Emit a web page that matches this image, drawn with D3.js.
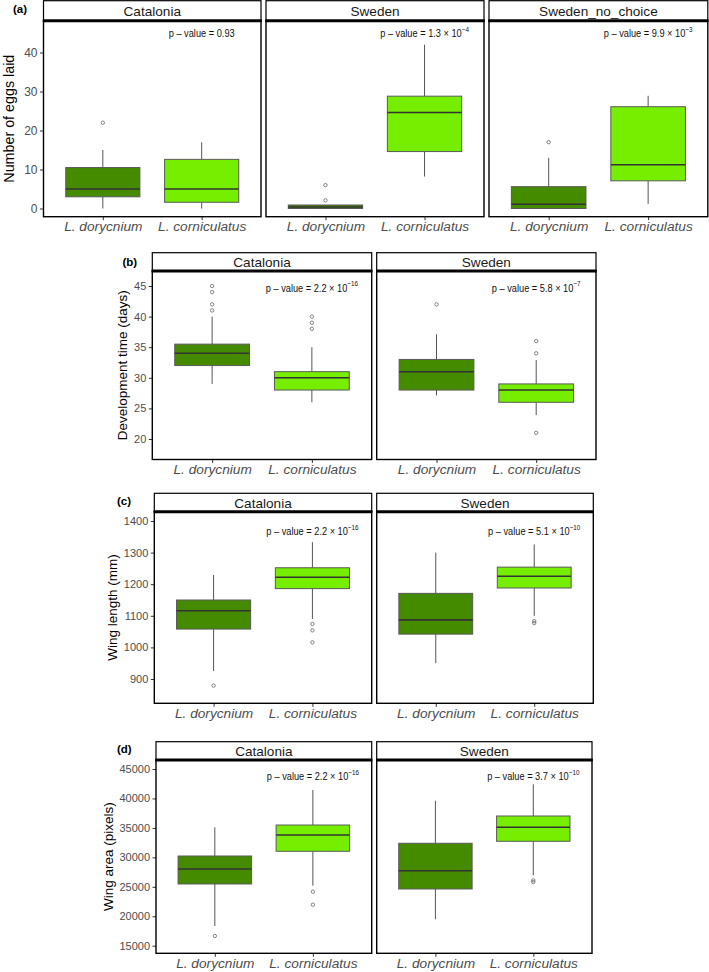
<!DOCTYPE html>
<html><head><meta charset="utf-8">
<script src="https://cdn.jsdelivr.net/npm/d3@7"></script>
<style>
body{margin:0;background:#fff}
svg{display:block}
text{font-family:"Liberation Sans",Arial,Helvetica,sans-serif}
</style>
</head><body>
<svg id="chart" width="709" height="972"></svg>
<script>
// ---------- DATA ----------
const species = ["L. dorycnium", "L. corniculatus"];
const speciesColors = ["#458B00", "#76EE00"];

// (a) Number of eggs laid  — box stats: [whiskerLow, Q1, median, Q3, whiskerHigh]
const eggsSites = ["Catalonia", "Sweden", "Sweden_no_choice"];
const eggsBoxes = [
  [[0, 3, 5, 10.5, 15], [0, 1.6, 5, 12.6, 17]],
  [[0, 0, 0.4, 0.9, 0.9], [8.2, 14.6, 24.6, 28.8, 42]],
  [[0, 0, 1.1, 5.6, 13], [1.2, 7.1, 11.2, 26.1, 28.9]]
];
const eggsOutliers = [[[22], []], [[2.1, 6], []], [[17], []]];
const eggsPValues = [["0.93", ""], ["1.3", "−4"], ["9.9", "−3"]];
const eggsTicks = [0, 10, 20, 30, 40];

// (b) Development time (days)
const devSites = ["Catalonia", "Sweden"];
const devBoxes = [
  [[29, 32, 34, 35.5, 40], [26, 28, 30, 31, 35]],
  [[27.1, 28, 31, 33, 37.1], [23.9, 26, 28, 29, 32.9]]
];
const devOutliers = [[[41, 42, 44, 45], [38, 39, 40]], [[42], [21, 34, 36]]];
const devPValues = [["2.2", "−16"], ["5.8", "−7"]];
const devTicks = [20, 25, 30, 35, 40, 45];

// (c) Wing length (mm)
const wingLenSites = ["Catalonia", "Sweden"];
const wingLenBoxes = [
  [[925, 1058, 1116, 1150, 1229], [1090, 1186, 1222, 1252, 1333]],
  [[950, 1042, 1087, 1171, 1300], [1100, 1188, 1225, 1254, 1326]]
];
const wingLenOutliers = [[[879], [1016, 1054, 1074]], [[], [1077, 1083]]];
const wingLenPValues = [["2.2", "−16"], ["5.1", "−10"]];
const wingLenTicks = [900, 1000, 1100, 1200, 1300, 1400];

// (d) Wing area (pixels)
const wingAreaSites = ["Catalonia", "Sweden"];
const wingAreaBoxes = [
  [[18350, 25480, 28020, 30230, 35100], [25190, 31030, 33800, 35490, 41430]],
  [[19480, 24630, 27730, 32390, 39620], [26950, 32730, 35100, 37020, 42400]]
];
const wingAreaOutliers = [[[16650], [21960, 24170]], [[], [25800, 26100]]];
const wingAreaPValues = [["2.2", "−16"], ["3.7", "−10"]];
const wingAreaTicks = [15000, 20000, 25000, 30000, 35000, 40000, 45000];

// ---------- LAYOUT (positions / styles) ----------
const rows = [
  { tag: "(a)", tagX: 13, tagY: 12.5, title: "Number of eggs laid", titleX: 9, titleSize: 14.3, tickSize: 12,
    sites: eggsSites, boxes: eggsBoxes, outliers: eggsOutliers, pvals: eggsPValues, ticks: eggsTicks,
    domain: [-2.1, 48.15], pY: 45, stripTop: 0.7, stripBottom: 20.7, bottom: 216.7,
    facets: [[43.5, 261], [266, 484], [489, 707.8]] },
  { tag: "(b)", tagX: 122.5, tagY: 265.5, title: "Development time (days)", titleX: 122, titleSize: 13.5, tickSize: 11,
    sites: devSites, boxes: devBoxes, outliers: devOutliers, pvals: devPValues, ticks: devTicks,
    domain: [16.65, 47.45], pY: 44.8, stripTop: 252.7, stripBottom: 271, bottom: 459.5,
    facets: [[152.3, 371.7], [376.7, 596]] },
  { tag: "(c)", tagX: 117, tagY: 504.5, title: "Wing length (mm)", titleX: 112, titleSize: 13.5, tickSize: 11,
    sites: wingLenSites, boxes: wingLenBoxes, outliers: wingLenOutliers, pvals: wingLenPValues, ticks: wingLenTicks,
    domain: [823.1, 1429.4], pY: 1368, stripTop: 493.3, stripBottom: 511.7, bottom: 703.3,
    facets: [[154.3, 371.7], [376.7, 593.3]] },
  { tag: "(d)", tagX: 117, tagY: 752.5, title: "Wing area (pixels)", titleX: 108, titleSize: 13.5, tickSize: 11,
    sites: wingAreaSites, boxes: wingAreaBoxes, outliers: wingAreaOutliers, pvals: wingAreaPValues, ticks: wingAreaTicks,
    domain: [13710, 46528], pY: 43810, stripTop: 741.7, stripBottom: 760, bottom: 953.3,
    facets: [[156, 371.7], [376.7, 592]] }
];

const svg = d3.select("#chart");

function drawRow(cfg) {
  const g = svg.append("g");
  const y = d3.scaleLinear().domain(cfg.domain).range([cfg.bottom, cfg.stripBottom]);

  // panel tag
  g.append("text").attr("x", cfg.tagX).attr("y", cfg.tagY)
    .attr("font-size", 11.5).attr("font-weight", "bold").attr("fill", "#000").text(cfg.tag);

  // y title
  const midY = (cfg.stripBottom + cfg.bottom) / 2;
  g.append("text")
    .attr("transform", `translate(${cfg.titleX},${midY}) rotate(-90)`)
    .attr("text-anchor", "middle").attr("dominant-baseline", "central")
    .attr("font-size", cfg.titleSize).attr("fill", "#000").text(cfg.title);

  cfg.sites.forEach((site, si) => {
    const [l, r] = cfg.facets[si];
    const x = d3.scalePoint().domain(species).range([l, r]).padding(0.6);
    const bw = x.step() * 0.75;
    const fg = g.append("g");

    // boxes
    species.forEach((sp, k) => {
      const [lo, q1, med, q3, hi] = cfg.boxes[si][k];
      const cx = x(sp);
      fg.append("line").attr("x1", cx).attr("x2", cx).attr("y1", y(q3)).attr("y2", y(hi))
        .attr("stroke", "#555").attr("stroke-width", 1);
      fg.append("line").attr("x1", cx).attr("x2", cx).attr("y1", y(lo)).attr("y2", y(q1))
        .attr("stroke", "#555").attr("stroke-width", 1);
      fg.append("rect").attr("x", cx - bw / 2).attr("width", bw)
        .attr("y", y(q3)).attr("height", Math.max(0.5, y(q1) - y(q3)))
        .attr("fill", speciesColors[k]).attr("stroke", "#5a5a5a").attr("stroke-width", 1);
      fg.append("line").attr("x1", cx - bw / 2).attr("x2", cx + bw / 2).attr("y1", y(med)).attr("y2", y(med))
        .attr("stroke", "#333").attr("stroke-width", 1.6);
      fg.selectAll(null).data(cfg.outliers[si][k]).enter().append("circle")
        .attr("cx", cx).attr("cy", d => y(d)).attr("r", 1.7)
        .attr("fill", "none").attr("stroke", "#666").attr("stroke-width", 0.8);
    });

    // x axis
    const xa = fg.append("g").attr("transform", `translate(0,${cfg.bottom})`)
      .call(d3.axisBottom(x).tickSize(3.5).tickPadding(1.5));
    xa.select(".domain").remove();
    xa.selectAll(".tick line").attr("stroke", "#333");
    xa.selectAll(".tick text").attr("font-size", 13.7).attr("font-style", "italic")
      .attr("fill", "#4d4d4d").attr("font-family", "Liberation Sans, Arial, sans-serif");

    // y axis (first facet)
    if (si === 0) {
      const ya = fg.append("g").attr("transform", `translate(${l},0)`)
        .call(d3.axisLeft(y).tickValues(cfg.ticks).tickSize(3.5).tickPadding(2.5).tickFormat(d3.format("d")));
      ya.select(".domain").remove();
      ya.selectAll(".tick line").attr("stroke", "#333");
      ya.selectAll(".tick text").attr("font-size", cfg.tickSize).attr("fill", "#4d4d4d")
        .attr("font-family", "Liberation Sans, Arial, sans-serif");
    }

    // p-value annotation
    const [mant, ex] = cfg.pvals[si];
    const pt = fg.append("text")
      .attr("transform", `translate(${x(species[1])},${y(cfg.pY)}) scale(0.84,1)`)
      .attr("text-anchor", "middle").attr("dominant-baseline", "central")
      .attr("font-size", 11).attr("fill", "#111");
    if (ex === "") {
      pt.append("tspan").text(`p – value = ${mant}`);
    } else {
      pt.append("tspan").text(`p – value = ${mant} × 10`);
      pt.append("tspan").attr("dy", -4.5).attr("font-size", 7.5).text(ex);
    }

    // panel border
    fg.append("rect").attr("x", l).attr("y", cfg.stripBottom).attr("width", r - l)
      .attr("height", cfg.bottom - cfg.stripBottom)
      .attr("fill", "none").attr("stroke", "#000").attr("stroke-width", 1.4);
    // strip
    fg.append("rect").attr("x", l).attr("y", cfg.stripTop).attr("width", r - l)
      .attr("height", cfg.stripBottom - cfg.stripTop)
      .attr("fill", "#fff").attr("stroke", "#000").attr("stroke-width", 1.2);
    fg.append("line").attr("x1", l - 0.7).attr("x2", r + 0.7)
      .attr("y1", cfg.stripBottom).attr("y2", cfg.stripBottom)
      .attr("stroke", "#000").attr("stroke-width", 3);
    fg.append("text").attr("x", (l + r) / 2).attr("y", (cfg.stripTop + cfg.stripBottom) / 2 + 0.5)
      .attr("text-anchor", "middle").attr("dominant-baseline", "central")
      .attr("font-size", 13.6).attr("fill", "#1a1a1a").text(site);
  });
}

rows.forEach(drawRow);
</script>
</body></html>
